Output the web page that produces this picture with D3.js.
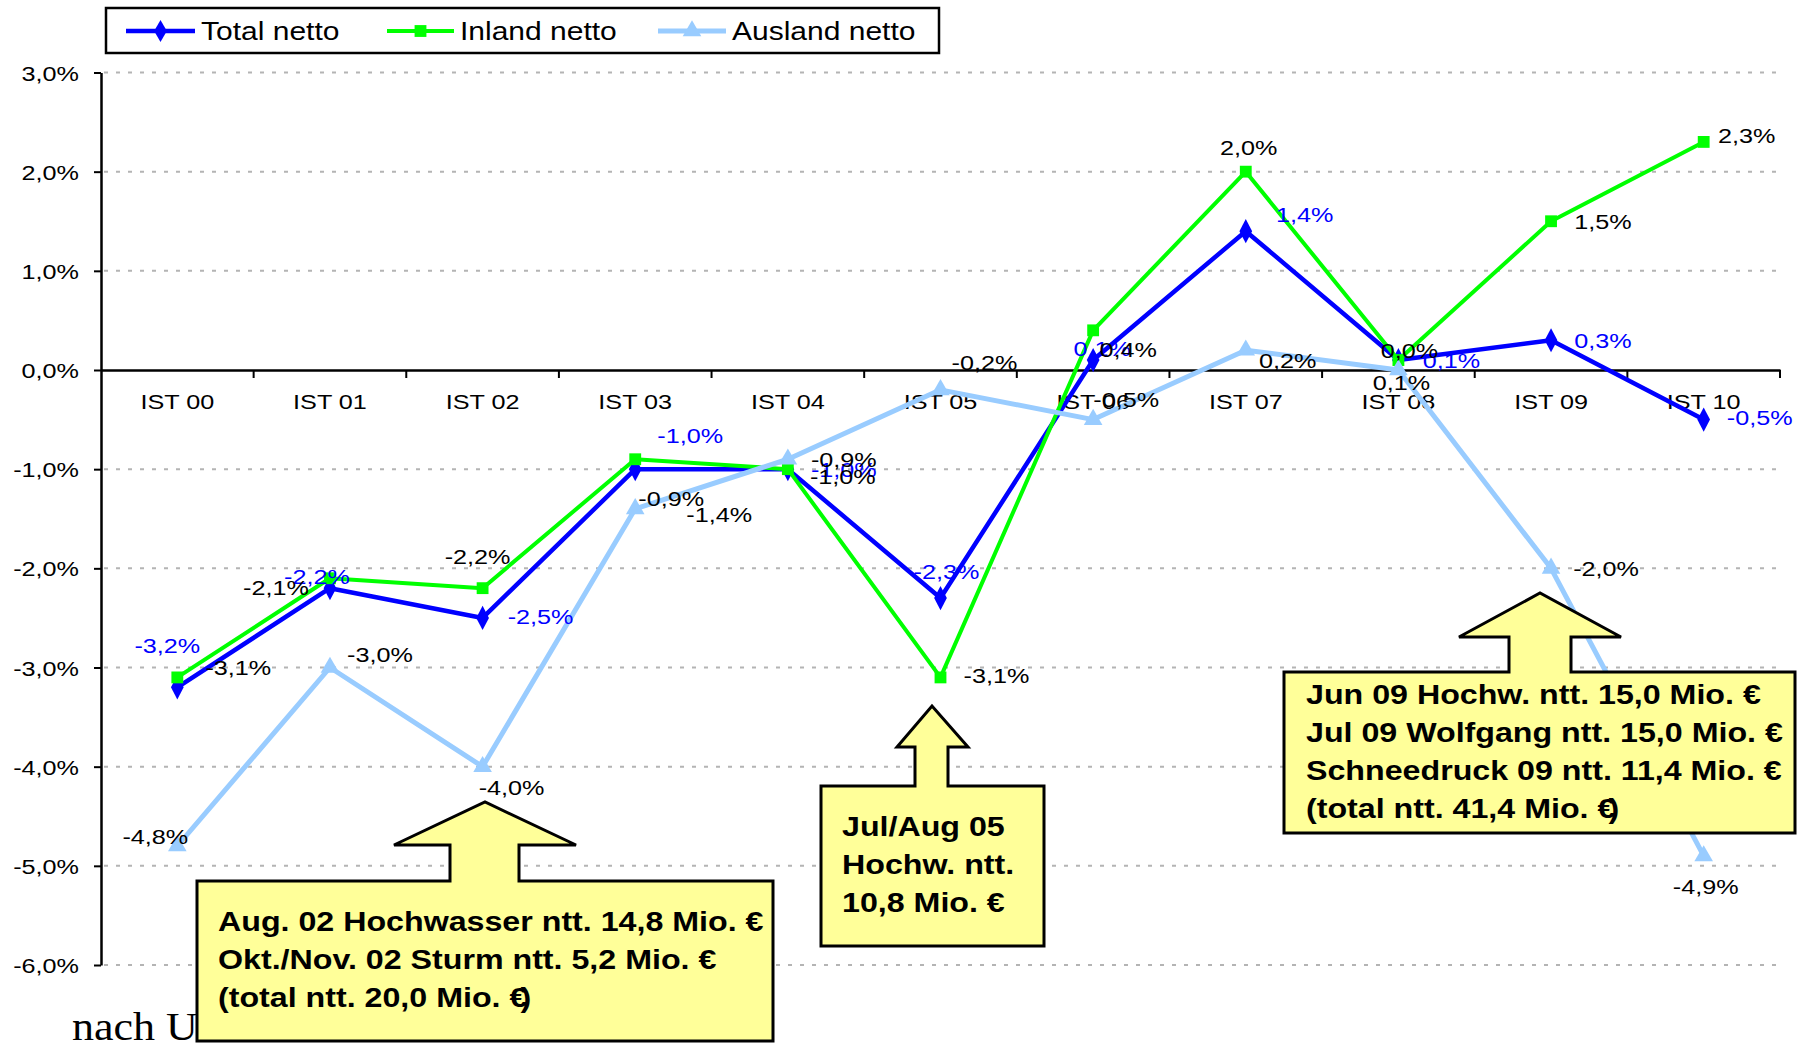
<!DOCTYPE html>
<html>
<head>
<meta charset="UTF-8">
<title>Total / Inland / Ausland netto</title>
<script src="https://cdnjs.cloudflare.com/ajax/libs/d3/7.8.5/d3.min.js"></script>
<style>
  body { margin: 0; background: #fff; }
  svg { display: block; font-family: "Liberation Sans", Arial, sans-serif; }
</style>
</head>
<body>
<svg id="chart" width="1802" height="1046"></svg>
<script>
// data
var categories = ["IST 00", "IST 01", "IST 02", "IST 03", "IST 04", "IST 05", "IST 06", "IST 07", "IST 08", "IST 09", "IST 10"];
var totalNetto   = [-3.2, -2.2, -2.5, -1.0, -1.0, -2.3, 0.1, 1.4, 0.1, 0.3, -0.5];
var inlandNetto  = [-3.1, -2.1, -2.2, -0.9, -1.0, -3.1, 0.4, 2.0, 0.1, 1.5, 2.3];
var auslandNetto = [-4.8, -3.0, -4.0, -1.4, -0.9, -0.2, -0.5, 0.2, 0.0, -2.0, -4.9];
var yTicks = [3, 2, 1, 0, -1, -2, -3, -4, -5, -6];
var seriesNames = ["Total netto", "Inland netto", "Ausland netto"];

// where each data label sits relative to its point (the original has them hand placed)
var totalLabelPos   = [[-10,-42],[-13,-12],[58,-1],[55,-34],[56,0],[6,-27],[9,-12],[59,-17],[53,0],[52,0],[56,-2]];
var inlandLabelPos  = [[61,-10],[-54,9],[-5,-32],[36,39],[55,7],[56,-2],[35,19],[3,-24],[3,22],[52,0],[43,-6]];
var auslandLabelPos = [[-22,-10],[50,-13],[29,21],[84,6],[56,0],[44,-27],[33,-20],[42,10],[11,-20],[55,0],[2,31]];

var sx = 1.2; // the source picture is stretched sideways
var fmt = function(v) { return v.toFixed(1).replace(".", ",").replace("-0,0", "0,0") + "%"; };

var svg = d3.select("#chart");

var x = d3.scaleBand().domain(categories).range([101, 1780]);
var y = d3.scaleLinear().domain([-6, 3]).range([965, 72.5]);
var cx = function(i) { return x(categories[i]) + x.bandwidth() / 2; };

// gridlines
svg.append("g").selectAll("line")
  .data(yTicks.filter(function(d) { return d !== 0; }))
  .enter().append("line")
    .attr("x1", 104).attr("x2", 1778)
    .attr("y1", function(d) { return y(d); }).attr("y2", function(d) { return y(d); })
    .attr("stroke", "#b4b4b4").attr("stroke-width", 2)
    .attr("stroke-dasharray", "4,8");

// y axis
var yAxis = svg.append("g")
  .attr("transform", "translate(101,0)")
  .call(d3.axisLeft(y).tickValues(yTicks).tickSize(7).tickSizeOuter(0).tickFormat(fmt));
yAxis.select(".domain").attr("stroke", "#000").attr("stroke-width", 2.5);
yAxis.selectAll(".tick line").attr("stroke", "#000").attr("stroke-width", 2);
yAxis.selectAll(".tick text")
  .attr("x", -22 / sx).attr("dy", "0.36em")
  .attr("transform", "scale(" + sx + ",1)")
  .attr("font-size", 21).attr("fill", "#000")
  .attr("font-family", "Liberation Sans, Arial, sans-serif");

// x axis at zero
var xAxis = svg.append("g")
  .attr("transform", "translate(0," + y(0) + ")")
  .call(d3.axisBottom(x).tickSize(0).tickSizeOuter(0).tickPadding(24));
xAxis.select(".domain").attr("stroke", "#000").attr("stroke-width", 2.5);
xAxis.selectAll(".tick text")
  .attr("transform", "scale(" + sx + ",1)")
  .attr("font-size", 21).attr("fill", "#000")
  .attr("font-family", "Liberation Sans, Arial, sans-serif");
xAxis.selectAll(".bound")
  .data(d3.range(1, categories.length + 1))
  .enter().append("line")
    .attr("class", "bound")
    .attr("x1", function(i) { return x.range()[0] + i * x.step(); })
    .attr("x2", function(i) { return x.range()[0] + i * x.step(); })
    .attr("y1", 0).attr("y2", 8)
    .attr("stroke", "#000").attr("stroke-width", 2);

// series
var series = [
  { name: seriesNames[0], values: totalNetto,   color: "#0000ff", width: 4.5, marker: "diamond",  labelColor: "#0000ff", pos: totalLabelPos },
  { name: seriesNames[1], values: inlandNetto,  color: "#00ff00", width: 4,   marker: "square",   labelColor: "#000",    pos: inlandLabelPos },
  { name: seriesNames[2], values: auslandNetto, color: "#99ccff", width: 5,   marker: "triangle", labelColor: "#000",    pos: auslandLabelPos }
];

var symbols = {
  diamond:  d3.symbol().type(d3.symbolDiamond).size(140),
  square:   d3.symbol().type(d3.symbolSquare).size(140),
  triangle: d3.symbol().type(d3.symbolTriangle).size(150)
};

var line = d3.line()
  .x(function(d, i) { return cx(i); })
  .y(function(d) { return y(d); });

series.forEach(function(s) {
  var g = svg.append("g");
  g.append("path")
    .attr("d", line(s.values))
    .attr("fill", "none")
    .attr("stroke", s.color)
    .attr("stroke-width", s.width)
    .attr("stroke-linejoin", "round");
  g.selectAll("path.mk")
    .data(s.values)
    .enter().append("path")
      .attr("class", "mk")
      .attr("d", symbols[s.marker])
      .attr("transform", function(d, i) {
        return "translate(" + cx(i) + "," + y(d) + ")" + (s.marker === "diamond" ? " scale(1,1.1)" : "");
      })
      .attr("fill", s.color);
});

// data labels
series.forEach(function(s) {
  svg.append("g").selectAll("text")
    .data(s.values)
    .enter().append("text")
      .attr("transform", function(d, i) {
        return "translate(" + (cx(i) + s.pos[i][0]) + "," + (y(d) + s.pos[i][1]) + ") scale(" + sx + ",1)";
      })
      .attr("text-anchor", "middle")
      .attr("dy", "0.36em")
      .attr("font-size", 21)
      .attr("fill", s.labelColor)
      .text(fmt);
});

// source note (partly hidden behind the first box)
svg.append("text")
  .attr("transform", "translate(72,1040) scale(1.1,1)")
  .attr("font-family", "Liberation Serif, Times New Roman, serif")
  .attr("font-size", 40)
  .text("nach UGB");

// call-out boxes
var callouts = [
  { box: [197, 881, 773, 1041], shaft: [450, 519], head: [394, 576, 845], tip: [485, 802],
    tx: 218, ty: 931, lines: ["Aug. 02 Hochwasser ntt. 14,8 Mio. €", "Okt./Nov. 02 Sturm ntt. 5,2 Mio. €", "(total ntt. 20,0 Mio. €)"] },
  { box: [821, 786, 1044, 946], shaft: [915, 948], head: [897, 968, 747], tip: [932, 706],
    tx: 842, ty: 836, lines: ["Jul/Aug 05", "Hochw. ntt.", "10,8 Mio. €"] },
  { box: [1284, 672, 1795, 833], shaft: [1509, 1571], head: [1459, 1621, 637], tip: [1540, 593],
    tx: 1306, ty: 704, lines: ["Jun 09 Hochw. ntt. 15,0 Mio. €", "Jul 09 Wolfgang ntt. 15,0 Mio. €", "Schneedruck 09 ntt. 11,4 Mio. €", "(total ntt. 41,4 Mio. €)"] }
];

callouts.forEach(function(c) {
  var b = c.box;
  var p = d3.path();
  p.moveTo(b[0], b[1]);
  p.lineTo(c.shaft[0], b[1]);
  p.lineTo(c.shaft[0], c.head[2]);
  p.lineTo(c.head[0], c.head[2]);
  p.lineTo(c.tip[0], c.tip[1]);
  p.lineTo(c.head[1], c.head[2]);
  p.lineTo(c.shaft[1], c.head[2]);
  p.lineTo(c.shaft[1], b[1]);
  p.lineTo(b[2], b[1]);
  p.lineTo(b[2], b[3]);
  p.lineTo(b[0], b[3]);
  p.closePath();
  svg.append("path")
    .attr("d", p.toString())
    .attr("fill", "#ffff99")
    .attr("stroke", "#000")
    .attr("stroke-width", 3)
    .attr("stroke-linejoin", "miter");
  c.lines.forEach(function(t, k) {
    var txt = svg.append("text")
      .attr("transform", "translate(" + c.tx + "," + (c.ty + k * 38) + ") scale(1.15,1)")
      .attr("font-size", 28)
      .attr("font-weight", "bold")
      .attr("fill", "#000");
    if (t.slice(-2) === "€)") {
      txt.append("tspan").text(t.slice(0, -1));
      txt.append("tspan").attr("dx", -6).text(")");
    } else {
      txt.text(t);
    }
  });
});

// legend
var legend = svg.append("g");
legend.append("rect")
  .attr("x", 106).attr("y", 8).attr("width", 833).attr("height", 45)
  .attr("fill", "#fff").attr("stroke", "#000").attr("stroke-width", 2.5);
var legendItems = [
  { x1: 126, x2: 195, tx: 201 },
  { x1: 387, x2: 454, tx: 460 },
  { x1: 658, x2: 726, tx: 732 }
];
series.forEach(function(s, i) {
  var it = legendItems[i], ly = 31;
  legend.append("line")
    .attr("x1", it.x1).attr("x2", it.x2).attr("y1", ly).attr("y2", ly)
    .attr("stroke", s.color).attr("stroke-width", s.width);
  legend.append("path")
    .attr("d", symbols[s.marker])
    .attr("transform", "translate(" + (it.x1 + it.x2) / 2 + "," + ly + ")")
    .attr("fill", s.color);
  legend.append("text")
    .attr("transform", "translate(" + it.tx + "," + ly + ") scale(" + sx + ",1)")
    .attr("dy", "0.36em")
    .attr("font-size", 25)
    .attr("fill", "#000")
    .text(s.name);
});
</script>
</body>
</html>
